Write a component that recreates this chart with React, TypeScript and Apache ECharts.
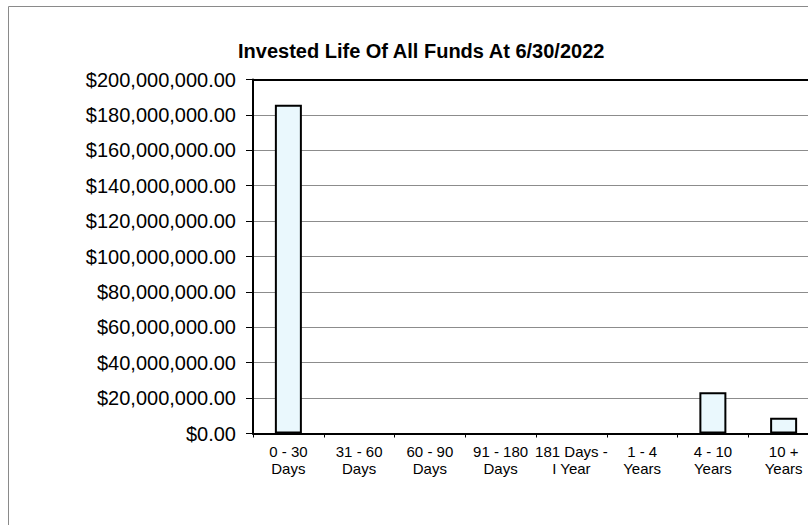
import React, { useEffect, useRef } from "react";
import * as echarts from "echarts";

const title = "Invested Life Of All Funds At 6/30/2022";
const categories = [
  "0 - 30\nDays",
  "31 - 60\nDays",
  "60 - 90\nDays",
  "91 - 180\nDays",
  "181 Days -\nI Year",
  "1 - 4\nYears",
  "4 - 10\nYears",
  "10 +\nYears",
];
const values = [185800000, 0, 0, 0, 0, 0, 23300000, 8900000];
const yMin = 0;
const yMax = 200000000;
const yStep = 20000000;

function money(v: number): string {
  const s = Math.round(v).toString().replace(/\B(?=(\d{3})+(?!\d))/g, ",");
  return "$" + s + ".00";
}

const CHART_W = 832;

export default function App() {
  const ref = useRef<HTMLDivElement>(null);
  useEffect(() => {
    if (!ref.current) return;
    const chart = echarts.init(ref.current, null, { renderer: "svg" });
    chart.setOption({
      animation: false,
      backgroundColor: "#ffffff",
      title: {
        text: title,
        left: 233,
        top: 36,
        textStyle: {
          fontFamily: "Liberation Sans, Arial, sans-serif",
          fontSize: 20,
          fontWeight: "bold",
          color: "#000",
        },
      },
      graphic: [
        {
          type: "rect",
          shape: { x: 8.5, y: 6.5, width: 900, height: 600 },
          style: { fill: "none", stroke: "#8a8a8a", lineWidth: 1 },
          silent: true,
          z: -1,
        },
      ],
      grid: { left: 253, top: 79.5, right: CHART_W - 819, bottom: 91.5 },
      xAxis: [
        {
          type: "category",
          data: categories,
          boundaryGap: true,
          axisLine: { show: true, lineStyle: { color: "#000", width: 2 } },
          axisTick: {
            show: true,
            length: 4,
            alignWithLabel: false,
            lineStyle: { color: "#000", width: 1 },
          },
          axisLabel: {
            interval: 0,
            margin: 9,
            fontFamily: "Liberation Sans, Arial, sans-serif",
            fontSize: 15,
            lineHeight: 17,
            color: "#000",
          },
          splitLine: { show: false },
        },
        {
          type: "category",
          data: categories,
          position: "top",
          axisLine: { show: true, lineStyle: { color: "#000", width: 2 } },
          axisTick: { show: false },
          axisLabel: { show: false },
        },
      ],
      yAxis: {
        type: "value",
        min: yMin,
        max: yMax,
        interval: yStep,
        axisLine: { show: true, lineStyle: { color: "#000", width: 2 } },
        axisTick: { show: true, length: 7, lineStyle: { color: "#000", width: 1 } },
        axisLabel: {
          formatter: (v: number) => money(v),
          margin: 17,
          fontFamily: "Liberation Sans, Arial, sans-serif",
          fontSize: 20,
          color: "#000",
        },
        splitLine: { show: true, lineStyle: { color: "#8c8c8c", width: 1 } },
      },
      series: [
        {
          type: "bar",
          data: values.map((v) => ({
            value: v,
            itemStyle: v === 0 ? { borderWidth: 0, color: "transparent" } : undefined,
          })),
          xAxisIndex: 0,
          barWidth: 27,
          itemStyle: {
            color: "#eaf8fd",
            borderColor: "#000",
            borderWidth: 2,
          },
        },
      ],
    });
    return () => chart.dispose();
  }, []);
  return (
    <div
      style={{
        position: "fixed",
        left: 0,
        top: 0,
        width: 808,
        height: 525,
        overflow: "hidden",
      }}
    >
      <div ref={ref} style={{ width: CHART_W, height: 525 }} />
    </div>
  );
}
